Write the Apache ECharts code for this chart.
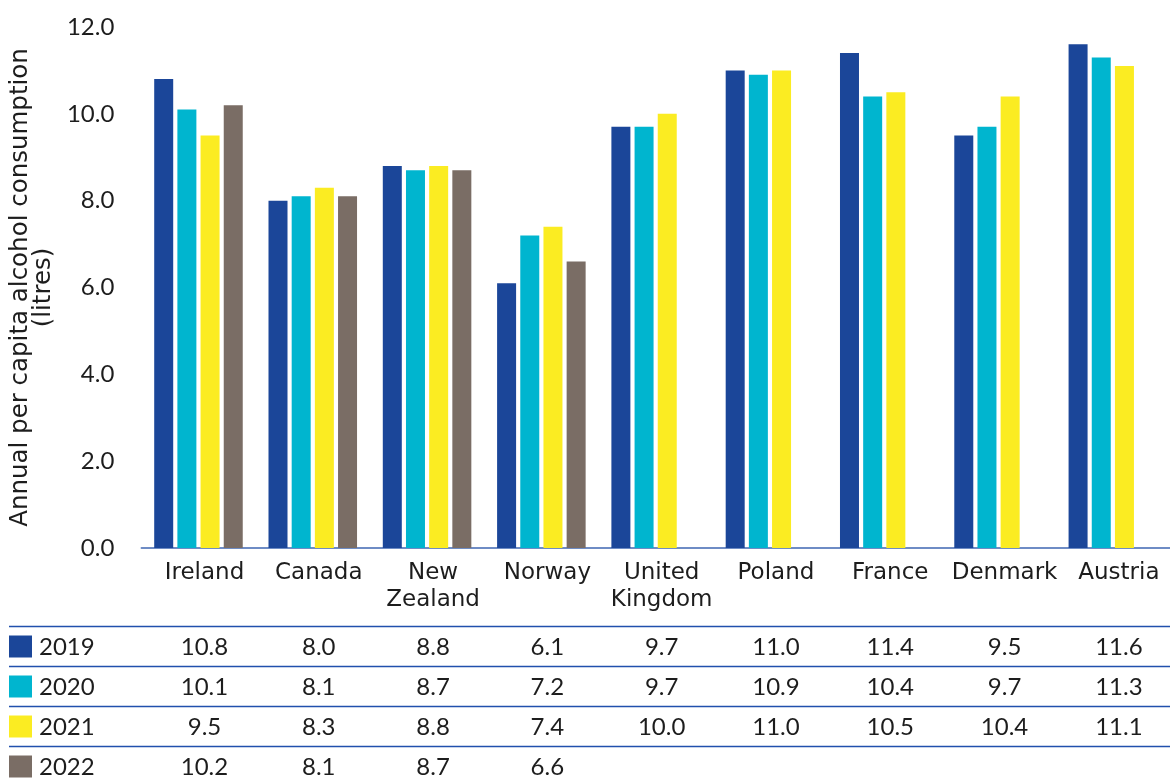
<!DOCTYPE html>
<html>
<head>
<meta charset="utf-8">
<script src="https://cdn.jsdelivr.net/npm/echarts@6/dist/echarts.min.js"></script>
<style>
  html, body { margin: 0; padding: 0; background: #ffffff; }
  #chart { width: 1170px; height: 780px; }
</style>
</head>
<body>
<div id="chart"></div>
<script>
// Countries along the category axis
const countries = ['Ireland', 'Canada', 'New\nZealand', 'Norway', 'United\nKingdom', 'Poland', 'France', 'Denmark', 'Austria'];
// Years shown as series
const years = ['2019', '2020', '2021', '2022'];
// Annual per capita alcohol consumption (litres)
const values2019 = [10.8, 8.0, 8.8, 6.1, 9.7, 11.0, 11.4, 9.5, 11.6];
const values2020 = [10.1, 8.1, 8.7, 7.2, 9.7, 10.9, 10.4, 9.7, 11.3];
const values2021 = [9.5, 8.3, 8.8, 7.4, 10.0, 11.0, 10.5, 10.4, 11.1];
const values2022 = [10.2, 8.1, 8.7, 6.6, null, null, null, null, null];
// Y-axis ticks
const yTicks = [0, 2, 4, 6, 8, 10, 12];

const seriesValues = [values2019, values2020, values2021, values2022];
const colors = ['#1b4699', '#00b5cf', '#fbec22', '#7a6d65'];
const NUM_FONT = 'Lato, "Open Sans", sans-serif';
const WORD_FONT = '"DejaVu Sans", "Open Sans", sans-serif';
const TEXT = '#1d1d1d';
const RULE = '#2150ad';

const chart = echarts.init(document.getElementById('chart'), null, { renderer: 'canvas' });

const baseOption = {
  animation: false,
  backgroundColor: '#ffffff',
  textStyle: { fontFamily: NUM_FONT },
  grid: { left: 139, right: -6, top: 27, bottom: 232, containLabel: false },
  xAxis: {
    type: 'category',
    data: countries,
    axisLine: { show: true, lineStyle: { color: '#3f67b3', width: 1.5 } },
    axisTick: { show: false },
    axisLabel: {
      fontFamily: WORD_FONT, fontSize: 23, color: TEXT, margin: 12,
      lineHeight: 27, padding: [0, 0, 0, 12], interval: 0
    }
  },
  yAxis: {
    type: 'value',
    min: yTicks[0],
    max: yTicks[yTicks.length - 1],
    interval: yTicks[1] - yTicks[0],
    name: 'Annual per capita alcohol consumption\n(litres)',
    nameLocation: 'middle',
    nameRotate: 90,
    nameGap: 79,
    nameTextStyle: { fontFamily: WORD_FONT, fontSize: 24.5, color: TEXT, lineHeight: 23 },
    axisLine: { show: false },
    axisTick: { show: false },
    splitLine: { show: false },
    axisLabel: {
      fontFamily: NUM_FONT, fontSize: 24, color: TEXT, margin: 27,
      formatter: v => v.toFixed(1)
    }
  },
  series: years.map((y, i) => ({
    name: y,
    type: 'bar',
    data: seriesValues[i],
    barWidth: 19,
    barGap: '22%',
    itemStyle: { color: colors[i] }
  }))
};

chart.setOption(baseOption);

// Data table underneath the plot, aligned to the category positions
const rowTop = 626.5;
const rowH = 40;
const graphics = [];
years.forEach((y, r) => {
  const top = rowTop + r * rowH;
  graphics.push({
    type: 'line',
    shape: { x1: 9, y1: top, x2: 1170, y2: top },
    style: { stroke: RULE, lineWidth: 1.5 }
  });
  graphics.push({
    type: 'rect',
    shape: { x: 9, y: top + 9, width: 23, height: 22 },
    style: { fill: colors[r] }
  });
  graphics.push({
    type: 'text',
    x: 39, y: top + 21,
    style: { text: y, font: '24px ' + NUM_FONT, fill: TEXT, textAlign: 'left', textVerticalAlign: 'middle' }
  });
  seriesValues[r].forEach((v, c) => {
    if (v === null || v === undefined) return;
    const px = chart.convertToPixel({ xAxisIndex: 0 }, c);
    graphics.push({
      type: 'text',
      x: px + 6, y: top + 21,
      style: { text: v.toFixed(1), font: '24px ' + NUM_FONT, fill: TEXT, textAlign: 'center', textVerticalAlign: 'middle' }
    });
  });
});

chart.setOption({ graphic: { elements: graphics } });
</script>
</body>
</html>
